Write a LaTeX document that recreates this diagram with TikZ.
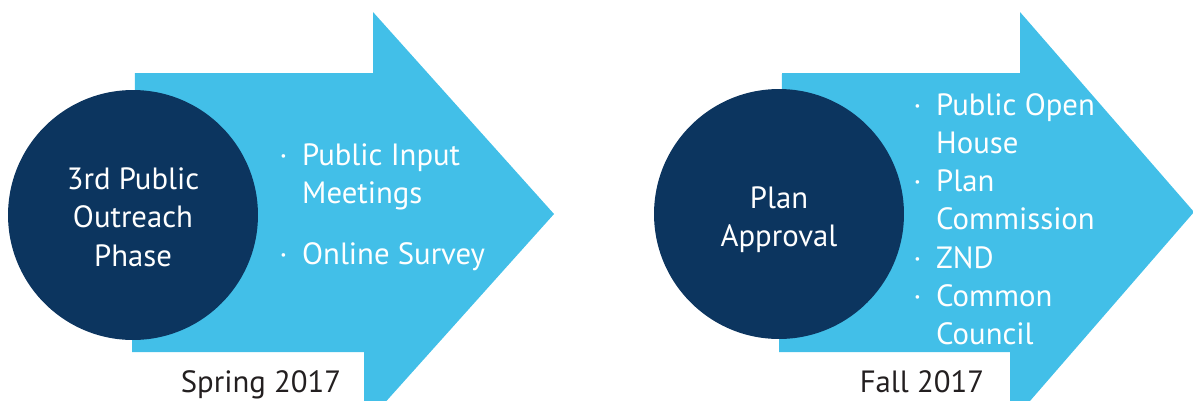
\documentclass[tikz,border=0pt]{standalone}
\usepackage{fontspec}
\setmainfont{PT Sans}
\usepackage{array}
\usetikzlibrary{positioning}

\definecolor{arrowblue}{HTML}{42BFE8}
\definecolor{phasenavy}{HTML}{0C355F}
\definecolor{datetext}{HTML}{231F20}

\tikzset{
  phase/.style={circle, fill=phasenavy, minimum size=5cm, inner sep=0pt},
  phasetext/.style={text=white, inner sep=0pt, align=center,
    font=\fontsize{17.5}{21.8}\selectfont},
  itemlist/.style={anchor=base west, inner sep=0pt, text=white,
    font=\fontsize{17.5}{21.8}\selectfont},
  season/.style={anchor=base, inner sep=0pt, text=datetext,
    font=\fontsize{17.5}{21.8}\selectfont}
}
\newcolumntype{B}{@{}p{13pt}@{}}

\begin{document}
\begin{tikzpicture}[x=0.02cm, y=-0.02cm]

\clip (0,0) rectangle (1193,400);

% arrow: spring
\fill[arrowblue] (135,73) -- (373,73) -- (373,12) -- (554,214) -- (364,426) -- (364,352) -- (132,352) -- cycle;
% arrow: fall
\fill[arrowblue] (782,73) -- (1020,73) -- (1020,12) -- (1194,212) -- (1010,424) -- (1010,352) -- (779,352) -- cycle;

% circles
\node[phase] (outreach) at (133,215) {};
\node[phase] (approval) at (779,214) {};
\node[phasetext] (outreach-text) at (133,217) {3rd Public\\Outreach\\Phase};
\node[phasetext] (approval-text) at (779,220) {Plan\\Approval};

% bullet lists
\node[itemlist] (spring-items) at (279,165) {\begin{tabular}[t]{Bl@{}}
  · & Public Input\\
    & Meetings\\[13pt]
  · & Online Survey
\end{tabular}};
\node[itemlist] (fall-items) at (913,115) {\begin{tabular}[t]{Bl@{}}
  · & Public Open\\
    & House\\
  · & Plan\\
    & Commission\\
  · & ZND\\
  · & Common\\
    & Council
\end{tabular}};

% dates
\node[season] (spring) at (261,392) {Spring 2017};
\node[season] (fall) at (922,392) {Fall 2017};

\end{tikzpicture}
\end{document}
